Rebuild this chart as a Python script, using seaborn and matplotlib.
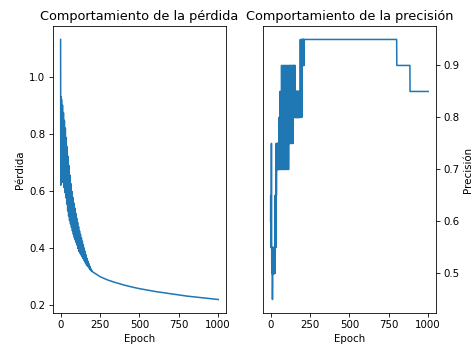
import numpy as np
import pandas as pd
import matplotlib
matplotlib.use("Agg")
import matplotlib.pyplot as plt
import seaborn as sns

# ---- Loss history -------------------------------------------------------
# first epochs
loss_head_epochs = [0, 1, 2]
loss_head_values = [1.13, 0.62, 0.93]

# oscillating stretch: troughs at 3, 9, 15, ... and peaks at 6, 12, 18, ...
loss_trough_epochs = list(range(3, 196, 6))
loss_trough_values = [0.63, 0.63, 0.63, 0.612, 0.594, 0.576, 0.554, 0.53, 0.512, 0.496,
                      0.484, 0.472, 0.46, 0.448, 0.437, 0.428, 0.419, 0.41, 0.398, 0.388,
                      0.382, 0.376, 0.37, 0.364, 0.358, 0.352, 0.346, 0.34, 0.337, 0.333,
                      0.327, 0.323, 0.32]
loss_peak_epochs = list(range(6, 199, 6))
loss_peak_values = [0.92, 0.90, 0.874, 0.847, 0.82, 0.787, 0.754, 0.721, 0.688, 0.655,
                    0.625, 0.598, 0.577, 0.558, 0.54, 0.522, 0.505, 0.49, 0.475, 0.46,
                    0.448, 0.436, 0.424, 0.412, 0.40, 0.388, 0.376, 0.364, 0.354, 0.345,
                    0.336, 0.328, 0.322]

# smooth tail
loss_tail_epochs = [200, 250, 300, 350, 400, 450, 500, 550, 600, 650, 700,
                    750, 800, 850, 900, 950, 1000]
loss_tail_values = [0.318, 0.30, 0.288, 0.279, 0.271, 0.264, 0.258, 0.253, 0.248, 0.244,
                    0.240, 0.236, 0.232, 0.229, 0.226, 0.223, 0.220]

# ---- Accuracy history (runs of alternating values) ----------------------
acc_seg_start = [0, 5, 7, 12, 13, 28, 35, 38, 52, 59, 69, 115, 146, 157, 185, 199, 215, 801, 885]
acc_seg_end = [5, 7, 12, 13, 28, 35, 38, 52, 59, 69, 115, 146, 157, 185, 199, 215, 801, 885, 1001]
acc_seg_values = [
    [0.60, 0.65, 0.55, 0.60, 0.55],
    [0.75],
    [0.55, 0.50],
    [0.45],
    [0.50, 0.55],
    [0.55, 0.65],
    [0.65, 0.75],
    [0.70, 0.75],
    [0.70, 0.80, 0.75],
    [0.70, 0.85, 0.75, 0.80],
    [0.70, 0.90, 0.75, 0.85, 0.80],
    [0.75, 0.90, 0.80, 0.85],
    [0.80, 0.90, 0.85],
    [0.80, 0.85],
    [0.85, 0.80, 0.85, 0.90, 0.95, 0.90],
    [0.90, 0.95],
    [0.95],
    [0.90],
    [0.85],
]

# ---- assemble tables ----------------------------------------------------
zig_e, zig_v = [], []
for te, tv, pe, pv in zip(loss_trough_epochs, loss_trough_values,
                          loss_peak_epochs, loss_peak_values):
    zig_e += [te, pe]
    zig_v += [tv, pv]

loss_df = pd.DataFrame({
    "Epoch": loss_head_epochs + zig_e + loss_tail_epochs,
    "Pérdida": loss_head_values + zig_v + loss_tail_values,
})

acc_e, acc_v = [], []
for s, e, vals in zip(acc_seg_start, acc_seg_end, acc_seg_values):
    for ep in range(s, e):
        acc_e.append(ep)
        acc_v.append(vals[(ep - s) % len(vals)])
acc_df = pd.DataFrame({"Epoch": acc_e, "Precisión": acc_v})

# ---- figure -------------------------------------------------------------
DPI = 74
fig = plt.figure(figsize=(475 / DPI, 348 / DPI), dpi=DPI)
ax1 = fig.add_axes([0.111, 0.102, 0.365, 0.822])
ax2 = fig.add_axes([0.553, 0.102, 0.365, 0.822])

sns.lineplot(data=loss_df, x="Epoch", y="Pérdida", ax=ax1,
             estimator=None, sort=False, color="#1f77b4", linewidth=1.5)
ax1.set_title("Comportamiento de la pérdida", fontsize=12.5)
ax1.set_xticks([0, 250, 500, 750, 1000])
ax1.set_yticks([0.2, 0.4, 0.6, 0.8, 1.0])

sns.lineplot(data=acc_df, x="Epoch", y="Precisión", ax=ax2,
             estimator=None, sort=False, color="#1f77b4", linewidth=1.5)
ax2.set_title("Comportamiento de la precisión", fontsize=12.5)
ax2.set_xticks([0, 250, 500, 750, 1000])
ax2.set_yticks([0.5, 0.6, 0.7, 0.8, 0.9])
ax2.yaxis.tick_right()
ax2.yaxis.set_label_position("right")

fig.savefig("out.png", dpi=DPI)
